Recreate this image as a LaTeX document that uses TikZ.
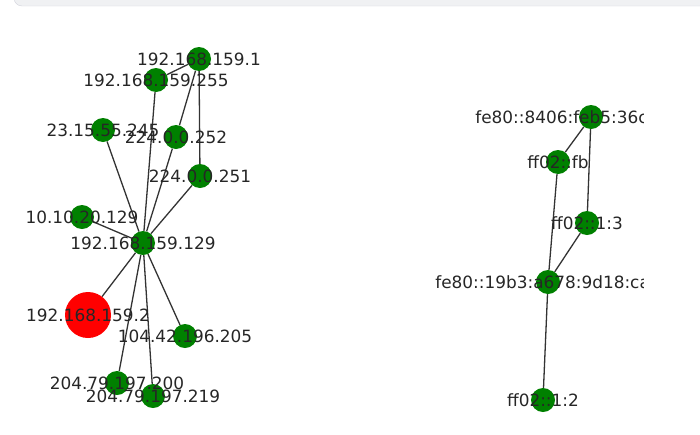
\documentclass[tikz,border=0pt]{standalone}
\usepackage{fontspec}
\setmainfont{DejaVu Sans}
\usetikzlibrary{backgrounds}
\definecolor{hostgreen}{RGB}{0,128,0}
\definecolor{barfill}{RGB}{240,241,243}
\definecolor{barline}{RGB}{210,211,220}

\begin{document}
\begin{tikzpicture}[
      x=1pt, y=-1pt,
      host/.style={circle, fill=hostgreen, minimum size=24pt, inner sep=0pt},
      target/.style={circle, fill=red, minimum size=46pt, inner sep=0pt},
      link/.style={line width=1.3pt, black!80},
      addr/.style={font=\fontsize{16.9}{20}\selectfont, text=black!85, inner sep=0pt}
    ]
      \useasboundingbox (0,0) rectangle (700,434);
      \draw[barline, fill=barfill, rounded corners=8pt] (14,-20) rectangle (720,6);

      \node[host] (gw) at (199,59) {};
      \node[host] (bcast) at (156,80) {};
      \node[host] (akam) at (103,130) {};
      \node[host] (llmnr) at (176,137) {};
      \node[host] (mdns) at (200,176) {};
      \node[host] (vpn) at (82,217) {};
      \node[host] (me) at (143,243) {};
      \node[target] (victim) at (88,315) {};
      \node[host] (azure) at (185,336) {};
      \node[host] (msa) at (117,383) {};
      \node[host] (msb) at (153,396) {};

      \node[host] (llb) at (591,117) {};
      \node[host] (fb) at (558,162) {};
      \node[host] (mc3) at (587,223) {};
      \node[host] (lla) at (548,282) {};
      \node[host] (mc2) at (543,400) {};

      \begin{pgfonlayer}{background}
        \draw[link] (gw) -- (bcast);
        \draw[link] (gw) -- (llmnr);
        \draw[link] (gw) -- (mdns);
        \foreach \n in {bcast, akam, llmnr, mdns, vpn, victim, azure, msa, msb}
          \draw[link] (me) -- (\n);
        \draw[link] (llb) -- (fb);
        \draw[link] (llb) -- (mc3);
        \draw[link] (fb) -- (lla);
        \draw[link] (mc3) -- (lla);
        \draw[link] (lla) -- (mc2);
      \end{pgfonlayer}

      \begin{scope}
        \clip (0,0) rectangle (643,434);
        \node[addr] (t-gw) at (gw) {192.168.159.1};
        \node[addr] (t-bcast) at (bcast) {192.168.159.255};
        \node[addr] (t-akam) at (akam) {23.15.55.245};
        \node[addr] (t-llmnr) at (llmnr) {224.0.0.252};
        \node[addr] (t-mdns) at (mdns) {224.0.0.251};
        \node[addr] (t-vpn) at (vpn) {10.10.20.129};
        \node[addr] (t-me) at (me) {192.168.159.129};
        \node[addr] (t-victim) at (victim) {192.168.159.2};
        \node[addr] (t-azure) at (azure) {104.42.196.205};
        \node[addr] (t-msa) at (msa) {204.79.197.200};
        \node[addr] (t-msb) at (msb) {204.79.197.219};
        \node[addr] (t-llb) at (llb) {fe80::8406:feb5:36c4:1d2e};
        \node[addr] (t-fb) at (fb) {ff02::fb};
        \node[addr] (t-mc3) at (mc3) {ff02::1:3};
        \node[addr] (t-lla) at (lla) {fe80::19b3:a678:9d18:ca5};
        \node[addr] (t-mc2) at (mc2) {ff02::1:2};
      \end{scope}
    \end{tikzpicture}
\end{document}
